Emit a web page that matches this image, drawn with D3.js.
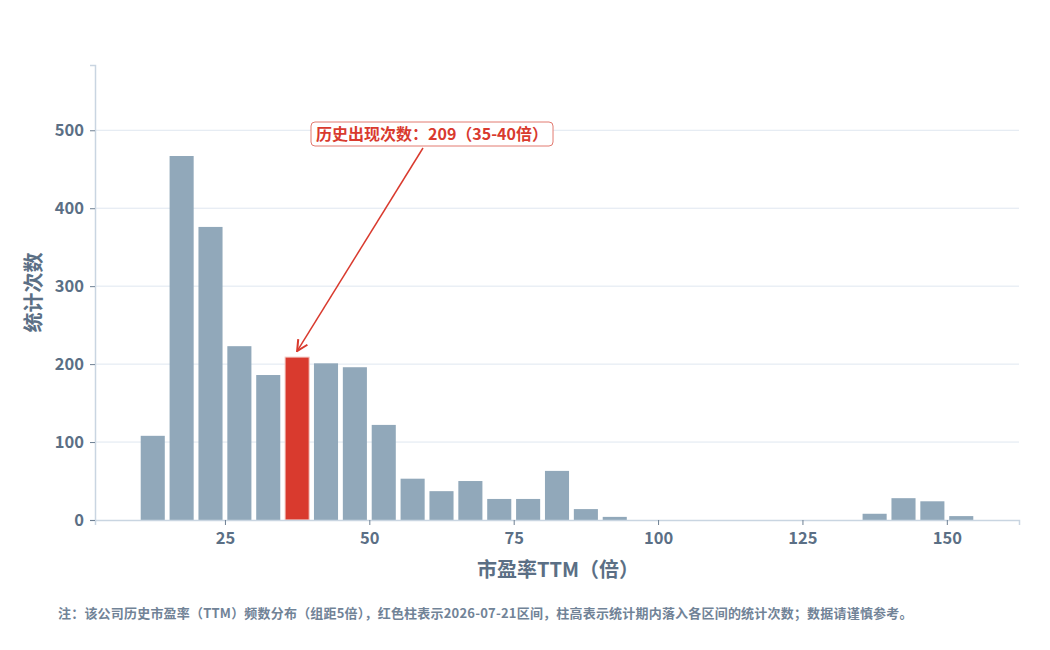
<!DOCTYPE html>
<html>
<head>
<meta charset="utf-8">
<script src="https://cdn.jsdelivr.net/npm/d3@7"></script>
<style>
  body { margin: 0; background: #fff; }
  svg text { font-family: "Noto Sans CJK SC", "Noto Sans", sans-serif; font-weight: 700; }
</style>
</head>
<body>
<div class="chart"></div>
<script>
// bin lower edges (PE, step 5) and counts
const binStarts = [10, 15, 20, 25, 30, 35, 40, 45, 50, 55, 60, 65, 70, 75, 80, 85, 90, 135, 140, 145, 150];
const binCounts = [108, 467, 376, 223, 186, 209, 201, 196, 122, 53, 37, 50, 27, 27, 63, 14, 4, 8, 28, 24, 5];
const binWidth = 5;
const highlightStart = 35;
const xTicks = [25, 50, 75, 100, 125, 150];
const yTicks = [0, 100, 200, 300, 400, 500];
const annotationText = "历史出现次数：209（35-40倍）";
const noteText = "注：该公司历史市盈率（TTM）频数分布（组距5倍），红色柱表示2026-07-21区间，柱高表示统计期内落入各区间的统计次数；数据请谨慎参考。";

const bins = binStarts.map((s, i) => ({ lo: s, hi: s + binWidth, n: binCounts[i] }));

const width = 1050, height = 650;
const margin = { top: 65, right: 31, bottom: 130, left: 95 };

const svg = d3.select("div.chart").append("svg")
    .attr("width", width)
    .attr("height", height);

const x = d3.scaleLinear()
    .domain([2.5, 162.5])
    .range([margin.left, width - margin.right]);
const y = d3.scaleLinear()
    .domain([0, d3.max(binCounts) * 1.25])
    .range([height - margin.bottom, margin.top]);

const textColor = "#5b6f85";
const axisColor = "#c9d5e1";

// grid
svg.append("g")
    .selectAll("line")
    .data(yTicks.filter(d => d > 0))
    .enter()
    .append("line")
    .attr("x1", margin.left)
    .attr("x2", width - margin.right)
    .attr("y1", d => y(d))
    .attr("y2", d => y(d))
    .attr("stroke", "#dfe7f0")
    .attr("stroke-width", 1);

// bars
svg.append("g")
    .selectAll("rect")
    .data(bins)
    .enter()
    .append("rect")
    .attr("x", d => x(d.lo) + 2.4)
    .attr("width", d => x(d.hi) - x(d.lo) - 4.8)
    .attr("y", d => y(d.n))
    .attr("height", d => y(0) - y(d.n))
    .attr("fill", d => d.lo === highlightStart ? "#d93a2e" : "#91a8ba")
    .attr("stroke", d => d.lo === highlightStart ? "#f3c9c4" : "none")
    .attr("stroke-width", 1);

// axes
const xAxis = svg.append("g")
    .attr("transform", `translate(0,${y(0)})`)
    .call(d3.axisBottom(x).tickValues(xTicks).tickSize(5).tickPadding(7));
const yAxis = svg.append("g")
    .attr("transform", `translate(${margin.left},0)`)
    .call(d3.axisLeft(y).tickValues(yTicks).tickSize(5).tickPadding(6));

[xAxis, yAxis].forEach(g => {
    g.select(".domain").attr("stroke", axisColor).attr("stroke-width", 1.5);
    g.selectAll(".tick line").attr("stroke", "#6d7f92");
    g.selectAll(".tick text")
        .attr("fill", textColor)
        .style("font-size", "16.5px")
        .style("font-family", "'Noto Sans CJK SC', 'Noto Sans', sans-serif")
        .style("font-weight", 700);
});

// axis titles
svg.append("text")
    .attr("x", (margin.left + width - margin.right) / 2 + 1)
    .attr("y", 577)
    .attr("text-anchor", "middle")
    .attr("fill", textColor)
    .style("font-size", "20px")
    .text("市盈率TTM（倍）");

svg.append("text")
    .attr("transform", `translate(41,${(margin.top + y(0)) / 2}) rotate(-90)`)
    .attr("text-anchor", "middle")
    .attr("fill", textColor)
    .style("font-size", "20px")
    .text("统计次数");

// annotation
const hb = bins.find(d => d.lo === highlightStart);
const tipX = (x(hb.lo) + x(hb.hi)) / 2;
const tipY = y(hb.n) - 6;

svg.append("defs").append("marker")
    .attr("id", "arrow")
    .attr("viewBox", "0 0 10 10")
    .attr("refX", 9)
    .attr("refY", 5)
    .attr("markerWidth", 9)
    .attr("markerHeight", 9)
    .attr("orient", "auto")
    .append("path")
    .attr("d", "M1,1 L9,5 L1,9")
    .attr("fill", "none")
    .attr("stroke", "#d93a2e")
    .attr("stroke-width", 1.5);

svg.append("line")
    .attr("x1", 423)
    .attr("y1", 148)
    .attr("x2", tipX)
    .attr("y2", tipY)
    .attr("stroke", "#d93a2e")
    .attr("stroke-width", 1.5)
    .attr("marker-end", "url(#arrow)");

const label = svg.append("g");
const labelText = label.append("text")
    .attr("x", 316)
    .attr("y", 140)
    .attr("fill", "#d93a2e")
    .style("font-size", "16px")
    .text(annotationText);
const bb = labelText.node().getBBox();
label.insert("rect", "text")
    .attr("x", bb.x - 5)
    .attr("y", 122)
    .attr("width", bb.width + 10)
    .attr("height", 24)
    .attr("rx", 4)
    .attr("fill", "#fff")
    .attr("stroke", "#e27a70")
    .attr("stroke-width", 1);

// footnote
svg.append("text")
    .attr("x", 58)
    .attr("y", 618)
    .attr("fill", "#718397")
    .style("font-size", "13px")
    .style("letter-spacing", "0.2px")
    .text(noteText);
</script>
</body>
</html>
